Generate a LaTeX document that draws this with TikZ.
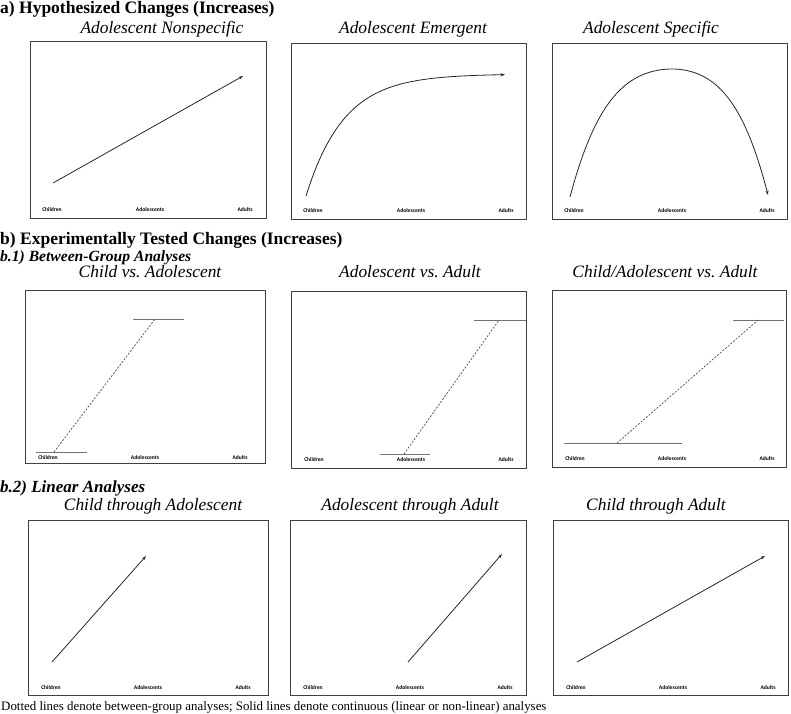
\documentclass[tikz,border=0pt]{standalone}
\usepackage{fontspec}
\setmainfont{Liberation Serif}[UprightFont=*, BoldFont=* Bold, ItalicFont=* Italic, BoldItalicFont=* Bold Italic]
\newfontfamily\lblfont{Carlito}[UprightFont=*, BoldFont=* Bold]
\usetikzlibrary{arrows.meta}
\begin{document}
\begin{tikzpicture}[x=1pt,y=-1pt,
  panel/.style={draw=black!75, line width=1pt},
  head/.style={font=\fontsize{17.5}{19}\selectfont\bfseries, anchor=base west, inner sep=0},
  subhead/.style={font=\fontsize{15.6}{17}\selectfont\bfseries\itshape, anchor=base west, inner sep=0},
  ptitle/.style={font=\fontsize{17.4}{19}\selectfont\itshape, anchor=base, inner sep=0},
  axlbl/.style={font=\lblfont\bfseries\fontsize{5.6}{6}\selectfont, inner sep=0},
  curve/.style={line width=0.8pt, draw=black!85},
  arr/.style={-{Stealth[length=4.5pt,width=3pt]}},
  levelline/.style={line width=1pt, draw=black!55},
  dashline/.style={dash pattern=on 2pt off 1.5pt, line width=0.7pt, draw=black!70},
  caption/.style={font=\fontsize{12.9}{14}\selectfont, anchor=base west, inner sep=0}]
\useasboundingbox (0,0) rectangle (791,713);

% ---------- headings ----------
\node[head] (ha) at (0,13) {a) Hypothesized Changes (Increases)};
\node[head] (hb) at (0,244) {b) Experimentally Tested Changes (Increases)};
\node[subhead] (hb1) at (0,261) {b.1) Between-Group Analyses};
\node[subhead, font=\fontsize{17}{19}\selectfont\bfseries\itshape] (hb2) at (0,492) {b.2) Linear Analyses};
\node[caption] (cap) at (1,710) {Dotted lines denote between-group analyses; Solid lines denote continuous (linear or non-linear) analyses};

% ---------- row a ----------
\node[ptitle] (ta1) at (162,33) {Adolescent Nonspecific};
\node[ptitle] (ta2) at (413,33) {Adolescent Emergent};
\node[ptitle] (ta3) at (651,33) {Adolescent Specific};

\draw[panel] (30,41) rectangle (266,218);
\draw[panel] (291,43) rectangle (526,219);
\draw[panel] (552,43) rectangle (787,219);

\foreach \p/\l/\yy in {a1/30/210, a2/291/211, a3/552/211}{
  \node[axlbl] (\p c) at (\l+22,\yy) {Children};
  \node[axlbl] (\p d) at (\l+120,\yy) {Adolescents};
  \node[axlbl] (\p a) at (\l+215,\yy) {Adults};
}

\coordinate (a1s) at (53,183);
\coordinate (a1e) at (243,76);
\draw[curve,arr] (a1s) -- (a1e);

\draw[curve,arr] plot[domain=306:505, samples=80, smooth] (\x,{74+122*exp(-(\x-306)/38)});

\draw[curve,arr] plot[domain=570:672, samples=60, smooth] (\x,{69+64*pow((672-\x)/102,2)*(1+pow((672-\x)/102,2))})
  -- plot[domain=672:768, samples=60, smooth] (\x,{69+63*pow((\x-672)/96,2)*(1+pow((\x-672)/96,2))});

% ---------- row b.1 ----------
\node[ptitle] (tb1) at (150,277) {Child vs.\ Adolescent};
\node[ptitle] (tb2) at (410,277) {Adolescent vs.\ Adult};
\node[ptitle] (tb3) at (665,277) {Child/Adolescent vs.\ Adult};

\draw[panel] (25,290) rectangle (265,463);
\draw[panel] (291,291) rectangle (526,468);
\draw[panel] (552,290) rectangle (786,467);

\foreach \p/\l/\yy in {b1/25/458, b2/291/460, b3/552/459}{
  \node[axlbl] (\p c) at (\l+23,\yy) {Children};
  \node[axlbl] (\p d) at (\l+120,\yy) {Adolescents};
  \node[axlbl] (\p a) at (\l+215,\yy) {Adults};
}

% panel b1-1
\coordinate (b1tl) at (133,319); \coordinate (b1tr) at (184,319);
\coordinate (b1bl) at (36,452);  \coordinate (b1br) at (87,452);
\coordinate (b1ds) at (54,452);  \coordinate (b1de) at (155,319);
\draw[levelline] (b1tl) -- (b1tr);
\draw[levelline] (b1bl) -- (b1br);
\draw[dashline] (b1ds) -- (b1de);

% panel b1-2
\coordinate (b2tl) at (474,320); \coordinate (b2tr) at (526,320);
\coordinate (b2bl) at (380,454); \coordinate (b2br) at (430,454);
\coordinate (b2ds) at (404,454); \coordinate (b2de) at (499,320);
\draw[levelline] (b2tl) -- (b2tr);
\draw[levelline] (b2bl) -- (b2br);
\draw[dashline] (b2ds) -- (b2de);

% panel b1-3
\coordinate (b3tl) at (733,320); \coordinate (b3tr) at (784,320);
\coordinate (b3bl) at (564,443); \coordinate (b3br) at (682,443);
\coordinate (b3ds) at (617,443); \coordinate (b3de) at (758,320);
\draw[levelline] (b3tl) -- (b3tr);
\draw[levelline] (b3bl) -- (b3br);
\draw[dashline] (b3ds) -- (b3de);

% ---------- row b.2 ----------
\node[ptitle] (tc1) at (153,510) {Child through Adolescent};
\node[ptitle] (tc2) at (410,510) {Adolescent through Adult};
\node[ptitle] (tc3) at (656,510) {Child through Adult};

\draw[panel] (28,520) rectangle (268,695);
\draw[panel] (290,520) rectangle (526,695);
\draw[panel] (553,520) rectangle (788,695);

\foreach \p/\l/\yy in {c1/28/688, c2/290/688, c3/553/688}{
  \node[axlbl] (\p c) at (\l+23,\yy) {Children};
  \node[axlbl] (\p d) at (\l+120,\yy) {Adolescents};
  \node[axlbl] (\p a) at (\l+215,\yy) {Adults};
}

\coordinate (c1s) at (52,662);  \coordinate (c1e) at (146,556);
\coordinate (c2s) at (408,662); \coordinate (c2e) at (502,554);
\coordinate (c3s) at (577,662); \coordinate (c3e) at (765,556);
\draw[curve,arr] (c1s) -- (c1e);
\draw[curve,arr] (c2s) -- (c2e);
\draw[curve,arr] (c3s) -- (c3e);
\end{tikzpicture}
\end{document}
